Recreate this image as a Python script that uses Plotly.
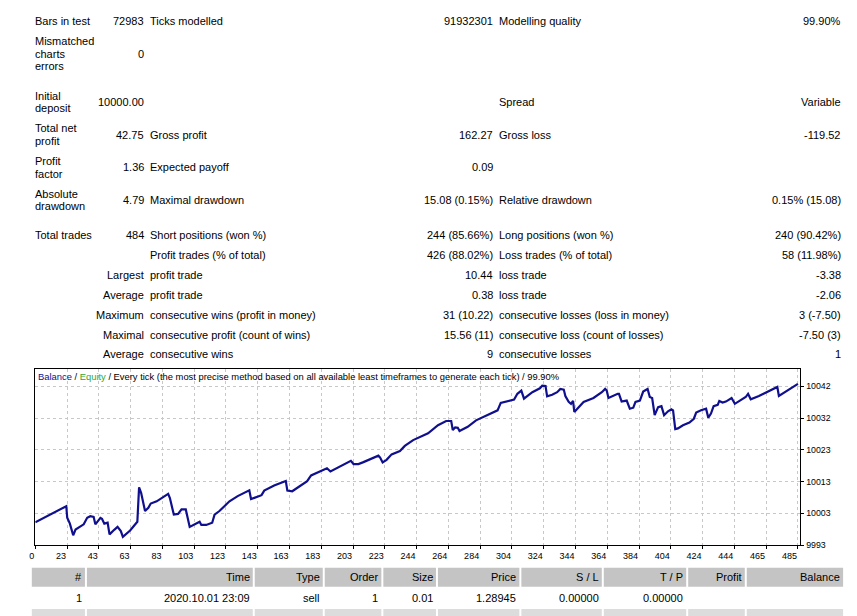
import plotly.graph_objects as go

W, H = 857, 616

# ---------------- data ----------------
trade_idx = [0, 18.2, 19.7, 20.3, 22.0, 24.1, 25.6, 30.8, 33.0, 35.0, 37.1, 38.2, 41.4, 42.4, 43.9, 46.0,
             47.2, 50.2, 52.3, 54.4, 55.7, 60.3, 64.9, 66.0, 67.3, 69.8, 71.9, 73.4, 77.2, 84.5, 85.6,
             88.1, 90.8, 93.0, 95.7, 98.2, 101.4, 104.5, 105.6, 108.7, 112.5, 114.0, 117.1, 123.5, 128.7,
             136.1, 137.2, 140.3, 143.9, 145.6, 151.9, 159.3, 160.3, 163.4, 168.7, 172.9, 175.4, 181.4,
             185.5, 187.7, 192.9, 199.2, 200.7, 202.4, 205.5, 208.7, 213.9, 218.2, 219.3, 220.9, 223.4,
             226.6, 231.9, 235.0, 240.3, 246.2, 249.8, 256.1, 261.3, 264.5, 265.5, 267.0, 268.7, 269.8,
             275.0, 280.3, 287.6, 294.0, 296.0, 299.2, 304.5, 306.6, 309.1, 310.8, 312.9, 316.1, 320.9,
             322.4, 324.5, 325.5, 328.7, 331.9, 333.9, 336.1, 337.1, 339.2, 340.7, 342.0, 342.8, 344.5,
             348.7, 355.0, 360.3, 362.4, 363.4, 364.5, 367.7, 370.4, 371.2, 372.9, 376.1, 378.1, 380.3,
             381.7, 384.5, 386.6, 389.4, 390.8, 392.3, 393.9, 396.1, 398.2, 399.9, 402.4, 404.5, 405.6,
             407.0, 408.7, 411.9, 416.0, 418.8, 420.3, 423.4, 426.6, 428.0, 429.7, 431.4, 434.0, 435.0,
             437.1, 439.2, 442.8, 444.9, 448.6, 451.8, 453.3, 455.0, 460.2, 465.5, 470.8, 471.9, 472.9,
             476.0, 481.3, 485.0]
balance = [10000.0, 10004.7, 10005.0, 10001.4, 9999.6, 9996.0, 9997.8, 9999.4, 10001.4, 10001.9, 10001.7,
           9999.4, 10001.4, 10001.1, 9999.6, 9999.9, 9996.3, 9997.7, 9998.6, 9997.3, 9995.5, 9997.5,
           10000.2, 10010.8, 10009.1, 10003.5, 10004.5, 10005.8, 10006.5, 10008.8, 10007.5, 10002.4,
           10002.6, 10004.0, 10004.0, 9998.6, 9999.4, 10000.2, 9999.2, 9999.2, 9999.9, 10002.4, 10003.5,
           10006.5, 10008.1, 10009.9, 10007.2, 10007.8, 10008.4, 10009.8, 10011.4, 10012.8, 10009.8,
           10009.6, 10011.4, 10012.7, 10014.5, 10015.7, 10016.7, 10015.7, 10017.0, 10018.8, 10019.0,
           10018.0, 10018.0, 10018.6, 10019.6, 10020.6, 10020.0, 10018.5, 10019.3, 10021.0, 10022.0,
           10023.6, 10025.4, 10026.6, 10027.5, 10030.0, 10031.3, 10031.3, 10028.5, 10029.3, 10029.2,
           10028.2, 10029.5, 10031.5, 10033.1, 10034.6, 10036.9, 10037.3, 10037.9, 10039.7, 10040.7,
           10038.2, 10039.0, 10040.2, 10041.4, 10042.2, 10042.1, 10038.9, 10039.4, 10040.2, 10041.2,
           10041.0, 10039.0, 10037.2, 10036.6, 10037.5, 10034.1, 10035.1, 10037.2, 10038.4, 10040.2,
           10041.2, 10040.7, 10038.4, 10039.2, 10039.7, 10039.7, 10037.3, 10037.6, 10035.1, 10035.4,
           10037.2, 10037.6, 10040.4, 10041.2, 10038.7, 10038.4, 10033.1, 10035.6, 10035.9, 10033.1,
           10034.3, 10034.9, 10034.6, 10028.8, 10029.0, 10030.0, 10030.8, 10032.0, 10033.9, 10034.6,
           10035.1, 10032.3, 10033.6, 10035.9, 10036.3, 10037.5, 10037.0, 10037.3, 10038.4, 10036.6,
           10037.6, 10038.7, 10039.7, 10038.0, 10039.0, 10040.2, 10041.5, 10041.8, 10039.0, 10040.0,
           10041.5, 10042.75]

x_tick_labels = ["0", "23", "43", "63", "83", "103", "123", "143", "163", "183", "203", "223", "244",
                 "264", "284", "304", "324", "344", "364", "384", "404", "424", "444", "465", "485"]
y_tick_values = [9993, 10002.8, 10012.6, 10022.4, 10032.2, 10042.0]
y_tick_labels = ["9993", "10003", "10013", "10023", "10032", "10042"]

chart_title_parts = ["Balance", "Equity",
                     "Every tick (the most precise method based on all available least timeframes to generate each tick)",
                     "99.90%"]

top_col1 = ["Bars in test", "Mismatched\ncharts\nerrors", "Initial\ndeposit", "Total net\nprofit",
            "Profit\nfactor", "Absolute\ndrawdown", "Total trades", "", "", "", "", "", ""]
top_col2 = ["72983", "0", "10000.00", "42.75", "1.36", "4.79", "484", "", "Largest", "Average",
            "Maximum", "Maximal", "Average"]
top_col3 = ["Ticks modelled", "", "", "Gross profit", "Expected payoff", "Maximal drawdown",
            "Short positions (won %)", "Profit trades (% of total)", "profit trade", "profit trade",
            "consecutive wins (profit in money)", "consecutive profit (count of wins)", "consecutive wins"]
top_col4 = ["91932301", "", "", "162.27", "0.09", "15.08 (0.15%)", "244 (85.66%)", "426 (88.02%)",
            "10.44", "0.38", "31 (10.22)", "15.56 (11)", "9"]
top_col5 = ["Modelling quality", "", "Spread", "Gross loss", "", "Relative drawdown",
            "Long positions (won %)", "Loss trades (% of total)", "loss trade", "loss trade",
            "consecutive losses (loss in money)", "consecutive loss (count of losses)", "consecutive losses"]
top_col6 = ["99.90%", "", "Variable", "-119.52", "", "0.15% (15.08)", "240 (90.42%)", "58 (11.98%)",
            "-3.38", "-2.06", "3 (-7.50)", "-7.50 (3)", "1"]

table_header = ["#", "Time", "Type", "Order", "Size", "Price", "S / L", "T / P", "Profit", "Balance"]
table_row1 = ["1", "2020.10.01 23:09", "sell", "1", "0.01", "1.28945", "0.00000", "0.00000", "", ""]

# ---------------- layout helpers ----------------
FONT = "Liberation Sans, Arial, sans-serif"
BAL_COLOR = "#10108e"
EQ_COLOR = "#2fa82f"

def py(p):
    return 1 - p / H

def px_(p):
    return p / W

# chart geometry (pixels)
PL, PR, PT, PB = 29.5, 800.0, 372.0, 549.5
X_STEP_PX = 32.0
Y_STEP_PX = 32.0
x_step_val = float(x_tick_labels[-1]) / (len(x_tick_labels) - 1)
x_tick_pos = [i * x_step_val for i in range(len(x_tick_labels))]
x_max = (PR - PL) / X_STEP_PX * x_step_val
y_step_val = y_tick_values[1] - y_tick_values[0]
y_max = y_tick_values[0] + (PB - PT) / Y_STEP_PX * y_step_val

fig = go.Figure()
fig.add_trace(go.Scatter(x=trade_idx, y=balance, mode="lines",
                         line=dict(color=BAL_COLOR, width=2.2), hoverinfo="skip", showlegend=False))

annotations = []

def add_text(text, x, y, anchor="left", size=11, color="#000"):
    annotations.append(dict(text=text, x=px_(x), y=py(y), xref="paper", yref="paper",
                            xanchor=anchor, yanchor="middle", showarrow=False,
                            borderpad=0, borderwidth=0,
                            font=dict(family=FONT, size=size, color=color)))

row_y = [21, 54, 102.7, 135.7, 168.7, 201.7, 237.3, 257.3, 277.3, 297.3, 317.3, 337.3, 357.3]
cols = [(top_col1, 29, "left"), (top_col2, 138.5, "right"), (top_col3, 145.5, "left"),
        (top_col4, 490.5, "right"), (top_col5, 496.8, "left"), (top_col6, 840.5, "right")]
LINE_H = 12.8
for col, cx, anc in cols:
    for txt, ry in zip(col, row_y):
        if not txt:
            continue
        lines = txt.split("\n")
        n = len(lines)
        for k, ln in enumerate(lines):
            add_text(ln, cx, ry + (k - (n - 1) / 2) * LINE_H, anc)

# chart title
title_html = (f'<span style="color:{BAL_COLOR}">{chart_title_parts[0]}</span> / '
              f'<span style="color:{EQ_COLOR}">{chart_title_parts[1]}</span> / '
              f'{chart_title_parts[2]} / {chart_title_parts[3]}')
add_text(title_html, 32, 379.8, "left", size=9.4)

# bottom table
cell_edges = [26, 79.5, 248.5, 319, 378, 433, 517, 600, 685, 744, 843]
HDR_T, HDR_B = 572.5, 591.5
ROW_T, ROW_B = 593.5, 612.5
shapes = []
for i in range(len(table_header)):
    l, r = cell_edges[i], cell_edges[i + 1]
    shapes.append(dict(type="rect", xref="paper", yref="paper",
                       x0=px_(l + (2 if i > 0 else 0)), x1=px_(r), y0=py(HDR_B), y1=py(HDR_T),
                       fillcolor="#c4c4c4", line=dict(width=0), layer="below"))
    shapes.append(dict(type="rect", xref="paper", yref="paper",
                       x0=px_(l + (2 if i > 0 else 0)), x1=px_(r), y0=py(H + 5), y1=py(614),
                       fillcolor="#dcdcdc", line=dict(width=0), layer="below"))
    add_text(table_header[i], r - 3, (HDR_T + HDR_B) / 2, "right")
    if table_row1[i]:
        add_text(table_row1[i], r - 3, (ROW_T + ROW_B) / 2 - 0.5, "right")

axis_common = dict(showgrid=True, gridcolor="#c8c8c8", griddash="3px,3px", gridwidth=1,
                   showline=True, mirror=True, linecolor="#000", linewidth=1,
                   ticks="outside", ticklen=3, tickcolor="#000", zeroline=False)

fig.update_layout(
    width=W, height=H, margin=dict(l=0, r=0, t=0, b=0),
    paper_bgcolor="white", plot_bgcolor="white",
    showlegend=False,
    xaxis=dict(domain=[px_(PL), px_(PR)], range=[0, x_max], tickmode="array",
               tickvals=x_tick_pos, ticktext=x_tick_labels, ticklabelposition="outside left",
               ticklabelstandoff=2, tickfont=dict(family=FONT, size=9, color="#000"),
               **axis_common),
    yaxis=dict(domain=[py(PB), py(PT)], range=[y_tick_values[0], y_max], side="right",
               tickmode="array", tickvals=y_tick_values, ticktext=y_tick_labels,
               tickfont=dict(family=FONT, size=8.8, color="#000"),
               **axis_common),
    annotations=annotations,
    shapes=shapes,
)

fig.write_html("out.html")
